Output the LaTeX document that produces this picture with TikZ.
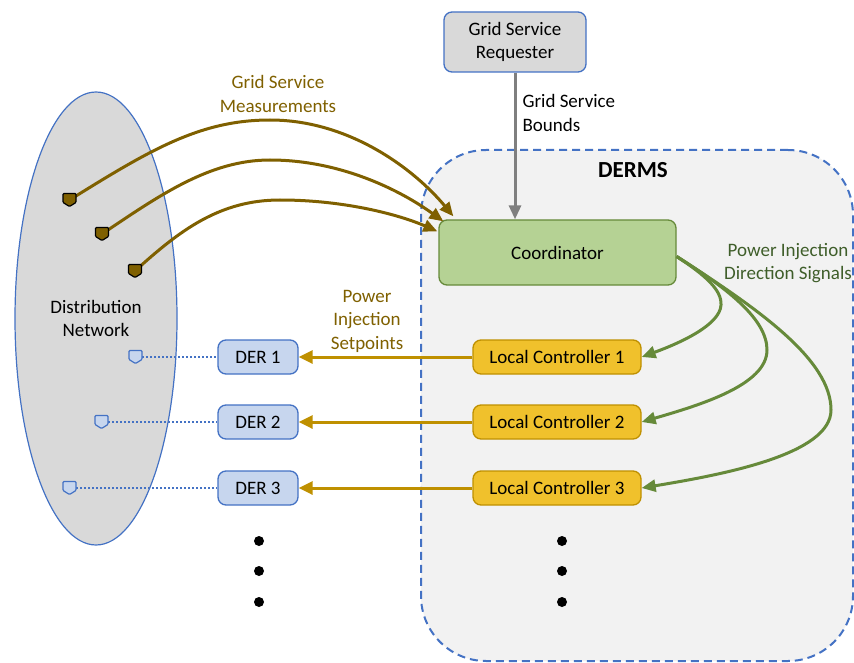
\documentclass[tikz,border=0pt]{standalone}
\usepackage{fontspec}
\setmainfont{Carlito}
\usetikzlibrary{shapes.geometric,arrows.meta,calc}
\definecolor{brownc}{HTML}{7F6000}
\definecolor{goldline}{HTML}{BF9000}
\definecolor{goldfill}{HTML}{F0C12C}
\definecolor{greenfill}{HTML}{B5D294}
\definecolor{greenline}{HTML}{668A3A}
\definecolor{greentext}{HTML}{3F5E2A}
\definecolor{bluec}{HTML}{4472C4}
\definecolor{derfill}{HTML}{C7D6EE}
\definecolor{grayfill}{HTML}{D9D9D9}
\definecolor{dermsfill}{HTML}{F2F2F2}
\definecolor{arrowgray}{HTML}{7F7F7F}
\tikzset{
  txt/.style={font=\fontsize{19}{23.5}\selectfont},
  box/.style={txt, rounded corners=8pt, line width=1.3pt, inner sep=0pt, align=center},
  derbox/.style={box, draw=bluec, fill=derfill, minimum width=80pt, minimum height=34pt},
  lcbox/.style={box, draw=goldline, fill=goldfill, minimum width=168pt, minimum height=34pt},
  coordbox/.style={box, draw=greenline, fill=greenfill, minimum width=237pt, minimum height=65pt},
  reqbox/.style={box, draw=bluec, fill=grayfill, minimum width=142pt, minimum height=60pt},
  measline/.style={draw=brownc, line width=3pt, -{Triangle[length=14pt,width=12pt]}},
  setline/.style={draw=goldline, line width=3pt, -{Triangle[length=14pt,width=13pt]}},
  dirline/.style={draw=greenline, line width=3pt, -{Triangle[length=14pt,width=12pt]}},
  dotline/.style={draw=bluec, line width=2pt, dash pattern=on 2pt off 2pt},
  bigdot/.style={circle, fill=black, inner sep=0pt, minimum size=10pt},
  shield/.pic={\path[pic actions, rounded corners=1pt] (-6.5,-6.5) -- (6.5,-6.5) -- (6.5,2.5) -- (0,6.5) -- (-6.5,2.5) -- cycle;},
}
\begin{document}
\begin{tikzpicture}[x=1pt,y=-1pt]
\useasboundingbox (0,0) rectangle (854,663);
% DERMS region
\node[draw=bluec, fill=dermsfill, line width=2pt, dash pattern=on 8pt off 5pt,
      rounded corners=65pt, minimum width=432pt, minimum height=511pt, inner sep=0pt]
      (derms) at (637,405.5) {};
\node[font=\fontsize{23}{27}\selectfont\bfseries] (dermslbl) at (633,170) {DERMS};
% distribution network
\node[ellipse, draw=bluec, fill=grayfill, line width=1.2pt, inner sep=0pt,
      minimum width=162pt, minimum height=453pt, txt, align=center]
      (net) at (96,318.5) {Distribution\\Network};
% boxes
\node[reqbox] (req) at (515,42) {Grid Service\\Requester};
\node[coordbox] (coord) at (557.5,252.5) {Coordinator};
\node[lcbox] (lc1) at (557,357) {Local Controller 1};
\node[lcbox] (lc2) at (557,422) {Local Controller 2};
\node[lcbox] (lc3) at (557,488) {Local Controller 3};
\node[derbox] (der1) at (258,357) {DER 1};
\node[derbox] (der2) at (258,422) {DER 2};
\node[derbox] (der3) at (258,488) {DER 3};
% markers
\coordinate (m1) at (69.5,200);
\coordinate (m2) at (102,234);
\coordinate (m3) at (135,271);
\coordinate (p1) at (135.5,357);
\coordinate (p2) at (101.5,422);
\coordinate (p3) at (69.5,488);
% requester arrow
\draw[draw=arrowgray, line width=3pt, -{Triangle[length=14pt,width=12pt]}]
  (req.south) -- (req.south |- coord.north);
\node[txt, align=left, anchor=west] (bounds) at (519,113) {Grid Service\\Bounds};
% measurement curves
\coordinate (t1) at ($(coord.north west)+(15,-3)$);
\coordinate (t2) at ($(coord.north west)+(5,2)$);
\coordinate (t3) at ($(coord.north west)+(-1,12)$);
\draw[measline] (m1) .. controls (150,150) and (200,120) .. (270,120) .. controls (350,120) and (415,170) .. (t1);
\draw[measline] (m2) .. controls (160,195) and (210,160) .. (270,160) .. controls (340,160) and (400,190) .. (t2);
\draw[measline] (m3) .. controls (180,230) and (220,200) .. (280,200) .. controls (345,200) and (400,215) .. (t3);
\node[txt, text=brownc, align=center] (measlbl) at (278,94) {Grid Service\\Measurements};
% markers on top
\pic[draw=black, fill=brownc, line width=1.2pt] at (m1) {shield};
\pic[draw=black, fill=brownc, line width=1.2pt] at (m2) {shield};
\pic[draw=black, fill=brownc, line width=1.2pt] at (m3) {shield};
% DER links
\draw[dotline] ([xshift=6.5pt]p1) -- (der1.west);
\draw[dotline] ([xshift=6.5pt]p2) -- (der2.west);
\draw[dotline] ([xshift=6.5pt]p3) -- (der3.west);
\pic[draw=bluec, fill=derfill, line width=1.2pt] at (p1) {shield};
\pic[draw=bluec, fill=derfill, line width=1.2pt] at (p2) {shield};
\pic[draw=bluec, fill=derfill, line width=1.2pt] at (p3) {shield};
% setpoints
\draw[setline] (lc1.west) -- (der1.east);
\draw[setline] (lc2.west) -- (der2.east);
\draw[setline] (lc3.west) -- (der3.east);
\node[txt, text=brownc, align=center] (setlbl) at (367,321) {Power\\Injection\\Setpoints};
% direction signals
\coordinate (cs) at ([yshift=-4pt]coord.east);
\draw[dirline] (cs) .. controls (705,275) and (722,290) .. (721,305) .. controls (720,325) and (680,343) .. (lc1.east);
\draw[dirline] (cs) .. controls (730,290) and (767,320) .. (767,350) .. controls (767,385) and (700,405) .. (lc2.east);
\draw[dirline] (cs) .. controls (760,310) and (831,360) .. (831,410) .. controls (831,455) and (720,475) .. (lc3.east);
\node[txt, text=greentext, align=center] (dirlbl) at (788,263) {Power Injection\\Direction Signals};
% ellipsis dots
\node[bigdot] (d1) at (259,541) {};
\node[bigdot] (d2) at (259,571) {};
\node[bigdot] (d3) at (259,602) {};
\node[bigdot] (d4) at (562,541) {};
\node[bigdot] (d5) at (562,571) {};
\node[bigdot] (d6) at (562,602) {};
\end{tikzpicture}
\end{document}
